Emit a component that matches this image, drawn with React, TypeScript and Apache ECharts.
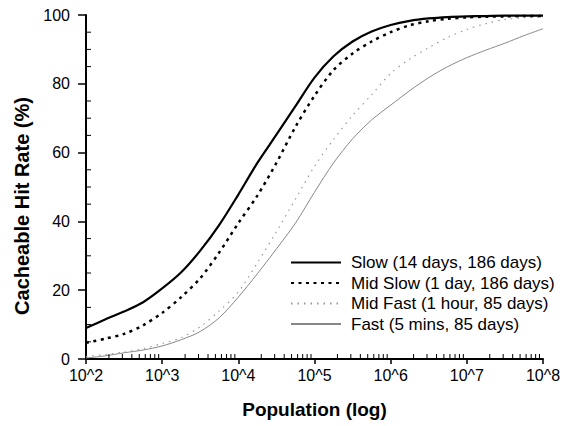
import React, { useEffect, useRef } from 'react';
import * as echarts from 'echarts';

const population = [
  100, 178, 316, 562, 1000, 1778, 3162, 5623, 10000, 17783, 31623, 56234,
  100000, 177828, 316228, 562341, 1000000, 1778279, 3162278, 5623413,
  10000000, 17782794, 31622777, 56234133, 100000000,
];

const slow = [9, 11.5, 13.8, 16.5, 20.5, 25.2, 31.5, 39, 47.8, 57, 65.2, 73.5, 81.8, 88, 92.3, 95.2, 97.1, 98.3, 99, 99.4, 99.6, 99.7, 99.8, 99.8, 99.8];
const midSlow = [4.7, 5.9, 7.3, 9.8, 13.4, 18, 23.5, 31, 39.5, 47.5, 57, 67.5, 76.5, 84, 88.8, 92.3, 95, 97, 98.2, 98.9, 99.3, 99.5, 99.6, 99.7, 99.7];
const midFast = [0.7, 1.3, 2, 3, 4.5, 6.2, 9.4, 14, 19.5, 28, 37, 46.5, 56, 63.8, 70.8, 76.8, 83, 87.2, 90.5, 93.5, 95.8, 97.5, 98.7, 99.2, 99.4];
const fast = [0.3, 0.9, 1.8, 2.6, 3.8, 5.6, 8, 12, 18, 24.8, 32, 39.5, 48.5, 57, 64, 69.5, 73.8, 78, 81.8, 85, 87.6, 89.8, 91.8, 94, 96];

const seriesNames = [
  'Slow (14 days, 186 days)',
  'Mid Slow (1 day, 186 days)',
  'Mid Fast (1 hour, 85 days)',
  'Fast (5 mins, 85 days)',
];

const minorTickX = [
  200, 300, 400, 500, 600, 700, 800, 900,
  2000, 3000, 4000, 5000, 6000, 7000, 8000, 9000,
  20000, 30000, 40000, 50000, 60000, 70000, 80000, 90000,
  200000, 300000, 400000, 500000, 600000, 700000, 800000, 900000,
  2000000, 3000000, 4000000, 5000000, 6000000, 7000000, 8000000, 9000000,
  20000000, 30000000, 40000000, 50000000, 60000000, 70000000, 80000000, 90000000,
];

const minorTickY = [5, 10, 15, 25, 30, 35, 45, 50, 55, 65, 70, 75, 85, 90, 95];

const FONT = '"Liberation Sans", Arial, Helvetica, sans-serif';

function pairs(ys: number[]) {
  return population.map((x, i) => [x, ys[i]]);
}

export default function App() {
  const ref = useRef<HTMLDivElement>(null);
  useEffect(() => {
    if (!ref.current) return;
    const chart = echarts.init(ref.current, undefined, { renderer: 'svg' });
    const tickData = [
      ...minorTickX.map((x) => [x, 0, 0]),
      ...minorTickY.map((y) => [100, y, 1]),
    ];
    chart.setOption({
      animation: false,
      backgroundColor: '#fff',
      textStyle: { fontFamily: FONT, color: '#000' },
      grid: { left: 86, right: 37, top: 15, bottom: 67, containLabel: false },
      legend: {
        data: seriesNames,
        orient: 'vertical',
        left: 285,
        top: 249,
        itemWidth: 50,
        itemHeight: 14,
        itemGap: 3.5,
        itemStyle: { opacity: 0 },
        textStyle: { fontFamily: FONT, fontSize: 17, color: '#000', lineHeight: 17, padding: [0, 0, 0, 5] },
      },
      xAxis: {
        type: 'log',
        logBase: 10,
        min: 100,
        max: 100000000,
        splitNumber: 6,
        name: 'Population (log)',
        nameLocation: 'middle',
        nameGap: 41,
        nameTextStyle: { fontFamily: FONT, fontSize: 19, fontWeight: 'bold', color: '#000' },
        axisLine: { show: true, lineStyle: { color: '#000', width: 2 } },
        axisTick: { show: true, length: 5, lineStyle: { color: '#000', width: 1.5 } },
        axisLabel: {
          fontFamily: FONT,
          fontSize: 16,
          color: '#000',
          margin: 8,
          formatter: (v: number) => '10^' + Math.round(Math.log10(v)),
        },
        splitLine: { show: false },
      },
      yAxis: {
        type: 'value',
        min: 0,
        max: 100,
        interval: 20,
        name: 'Cacheable Hit Rate (%)',
        nameLocation: 'middle',
        nameGap: 54,
        nameTextStyle: { fontFamily: FONT, fontSize: 20, fontWeight: 'bold', color: '#000', padding: [0, 38, 0, 0] },
        axisLine: { show: true, lineStyle: { color: '#000', width: 2 } },
        axisTick: { show: true, length: 8, lineStyle: { color: '#000', width: 1.5 } },
        axisLabel: { fontFamily: FONT, fontSize: 16, color: '#000', margin: 16 },
        splitLine: { show: false },
      },
      series: [
        {
          name: seriesNames[0],
          type: 'line',
          data: pairs(slow),
          smooth: 0.3,
          symbol: 'none',
          lineStyle: { color: '#000', width: 2.2, type: 'solid' },
          itemStyle: { color: '#000' },
          z: 5,
        },
        {
          name: seriesNames[1],
          type: 'line',
          data: pairs(midSlow),
          smooth: 0.3,
          symbol: 'none',
          lineStyle: { color: '#000', width: 2.5, type: [3, 4.5] },
          itemStyle: { color: '#000' },
          z: 4,
        },
        {
          name: seriesNames[2],
          type: 'line',
          data: pairs(midFast),
          smooth: 0.3,
          symbol: 'none',
          lineStyle: { color: '#999', width: 1.2, type: [1.5, 5] },
          itemStyle: { color: '#999' },
          z: 3,
        },
        {
          name: seriesNames[3],
          type: 'line',
          data: pairs(fast),
          smooth: 0.3,
          symbol: 'none',
          lineStyle: { color: '#888', width: 1, type: 'solid' },
          itemStyle: { color: '#888' },
          z: 2,
        },
        {
          type: 'custom',
          name: 'minorTicks',
          silent: true,
          clip: false,
          z: 6,
          data: tickData,
          renderItem: (params: any, api: any) => {
            const p = api.coord([api.value(0), api.value(1)]);
            const vertical = api.value(2) === 0;
            return {
              type: 'line',
              shape: vertical
                ? { x1: p[0], y1: p[1], x2: p[0], y2: p[1] - 5 }
                : { x1: p[0], y1: p[1], x2: p[0] + 5, y2: p[1] },
              style: { stroke: '#000', lineWidth: 1 },
            };
          },
        },
      ],
    });
    return () => chart.dispose();
  }, []);
  return <div ref={ref} style={{ width: 580, height: 426, position: 'absolute', left: 0, top: 0 }} />;
}
